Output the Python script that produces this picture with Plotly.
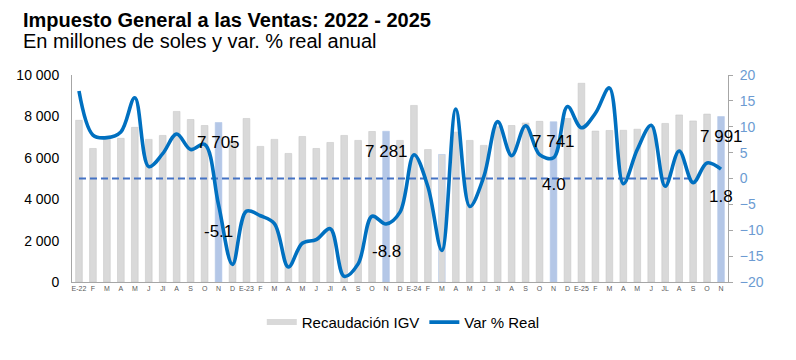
import plotly.graph_objects as go

months = ["E-22", "F", "M", "A", "M", "J", "Jl", "A", "S", "O", "N", "D",
          "E-23", "F", "M", "A", "M", "J", "Jl", "A", "S", "O", "N", "D",
          "E-24", "F", "M", "A", "M", "J", "Jl", "A", "S", "O", "N", "D",
          "E-25", "F", "M", "A", "M", "J", "JL", "A", "S", "O", "N"]

recaudacion = [7810, 6450, 6950, 6940, 7470, 6890, 7080, 8240, 7850, 7560, 7705, 6800,
               7900, 6550, 6890, 6210, 7030, 6450, 6740, 7080, 6840, 7270, 7281, 6840,
               8530, 6400, 6160, 7240, 6840, 6600, 7500, 7560, 7680, 7760, 7741, 7900,
               9600, 7290, 7320, 7330, 7380, 7500, 7660, 8070, 7780, 8110, 7991]

var_real = [16.9, 8.4, 7.9, 9.0, 15.6, 2.3, 4.8, 8.6, 5.6, 6.6, -5.1, -16.6,
            -6.3, -7.2, -8.7, -17.1, -12.5, -11.8, -9.7, -18.9, -16.5, -7.3, -8.8, -6.5,
            4.6, -1.6, -13.9, 13.4, -5.4, 0.3, 11.0, 4.4, 10.2, 4.6, 4.0, 13.9,
            9.8, 12.6, 17.5, -1.0, 5.6, 10.3, -1.5, 5.3, -0.8, 3.0, 1.8]

highlight_idx = [10, 22, 34, 46]   # noviembres
ref_end = 44                        # linea de referencia 0 hasta set-25

x = list(range(len(months)))

FONT = "Liberation Sans, Arial, sans-serif"
bar_colors = ["#B4C7E7" if i in highlight_idx else "#D9D9D9" for i in x]
bar_line = ["#B4C7E7" if i in highlight_idx + [26] else "#C9C9C9" for i in x]

fig = go.Figure()
# legend entry for bars (wide rectangle like the reference)
fig.add_trace(go.Scatter(
    x=[None], y=[None], mode="lines", name="Recaudación IGV",
    line=dict(color="#D9D9D9", width=6), hoverinfo="skip"))
fig.add_trace(go.Bar(
    x=x, y=recaudacion, name="Recaudación IGV", width=0.48, showlegend=False,
    marker=dict(color=bar_colors, line=dict(color=bar_line, width=0.6)),
    yaxis="y"))
fig.add_trace(go.Scatter(
    x=x[:ref_end + 1], y=[0] * (ref_end + 1), mode="lines", yaxis="y2",
    line=dict(color="#4472C4", width=2, dash="7px,4px"), showlegend=False,
    hoverinfo="skip"))
fig.add_trace(go.Scatter(
    x=x, y=var_real, name="Var % Real", mode="lines", yaxis="y2",
    line=dict(color="#0070C0", width=3.6, shape="spline", smoothing=1.0)))

annotations = []
for i in highlight_idx:
    annotations.append(dict(
        x=i, y=recaudacion[i], xref="x", yref="y",
        text=f"{recaudacion[i]:,}".replace(",", " "),
        showarrow=False, yanchor="middle", yshift=-20,
        font=dict(size=17, color="#000000", family=FONT)))
    annotations.append(dict(
        x=i, y=var_real[i], xref="x", yref="y2",
        text=f"{var_real[i]:.1f}",
        showarrow=False, yanchor="middle", yshift=-27,
        font=dict(size=17, color="#000000", family=FONT)))

annotations.append(dict(
    x=-0.078, y=1.265, xref="paper", yref="paper", xanchor="left", yanchor="middle",
    text="<b>Impuesto General a las Ventas: 2022 - 2025</b>", showarrow=False,
    font=dict(size=20, color="#000000", family=FONT)))
annotations.append(dict(
    x=-0.078, y=1.165, xref="paper", yref="paper", xanchor="left", yanchor="middle",
    text="En millones de soles y var. % real anual", showarrow=False,
    font=dict(size=20, color="#000000", family=FONT)))

fig.update_layout(
    width=796, height=360,
    margin=dict(l=72, r=68, t=75, b=78),
    paper_bgcolor="white", plot_bgcolor="white",
    separators=". ",
    font=dict(family=FONT, color="#000000"),
    showlegend=True,
    legend=dict(orientation="h", x=0.505, xanchor="center", y=-0.195, yanchor="middle",
                font=dict(size=15, family=FONT), traceorder="normal"),
    xaxis=dict(range=[-0.5, len(months) - 0.5], tickmode="array", tickvals=x,
               ticktext=months, tickangle=0,
               tickfont=dict(size=7, color="#595959"),
               showline=True, linecolor="#A6A6A6", linewidth=1,
               showgrid=False, zeroline=False, ticks=""),
    yaxis=dict(range=[0, 10000], dtick=2000, tickformat=",d",
               tickfont=dict(size=14, color="#000000"),
               showline=True, linecolor="#A6A6A6", linewidth=1,
               showgrid=False, zeroline=False, ticklabelstandoff=9),
    yaxis2=dict(range=[-20, 20], dtick=5, overlaying="y", side="right",
                tickfont=dict(size=14, color="#6C9BD2"),
                showline=True, linecolor="#A6A6A6", linewidth=1,
                ticks="outside", ticklen=4, tickcolor="#A6A6A6",
                showgrid=False, zeroline=False, ticklabelstandoff=4),
    annotations=annotations,
    bargap=0.52,
)

fig.write_html("out.html", config={"displayModeBar": False},
               post_script="document.body.style.margin='0';")
